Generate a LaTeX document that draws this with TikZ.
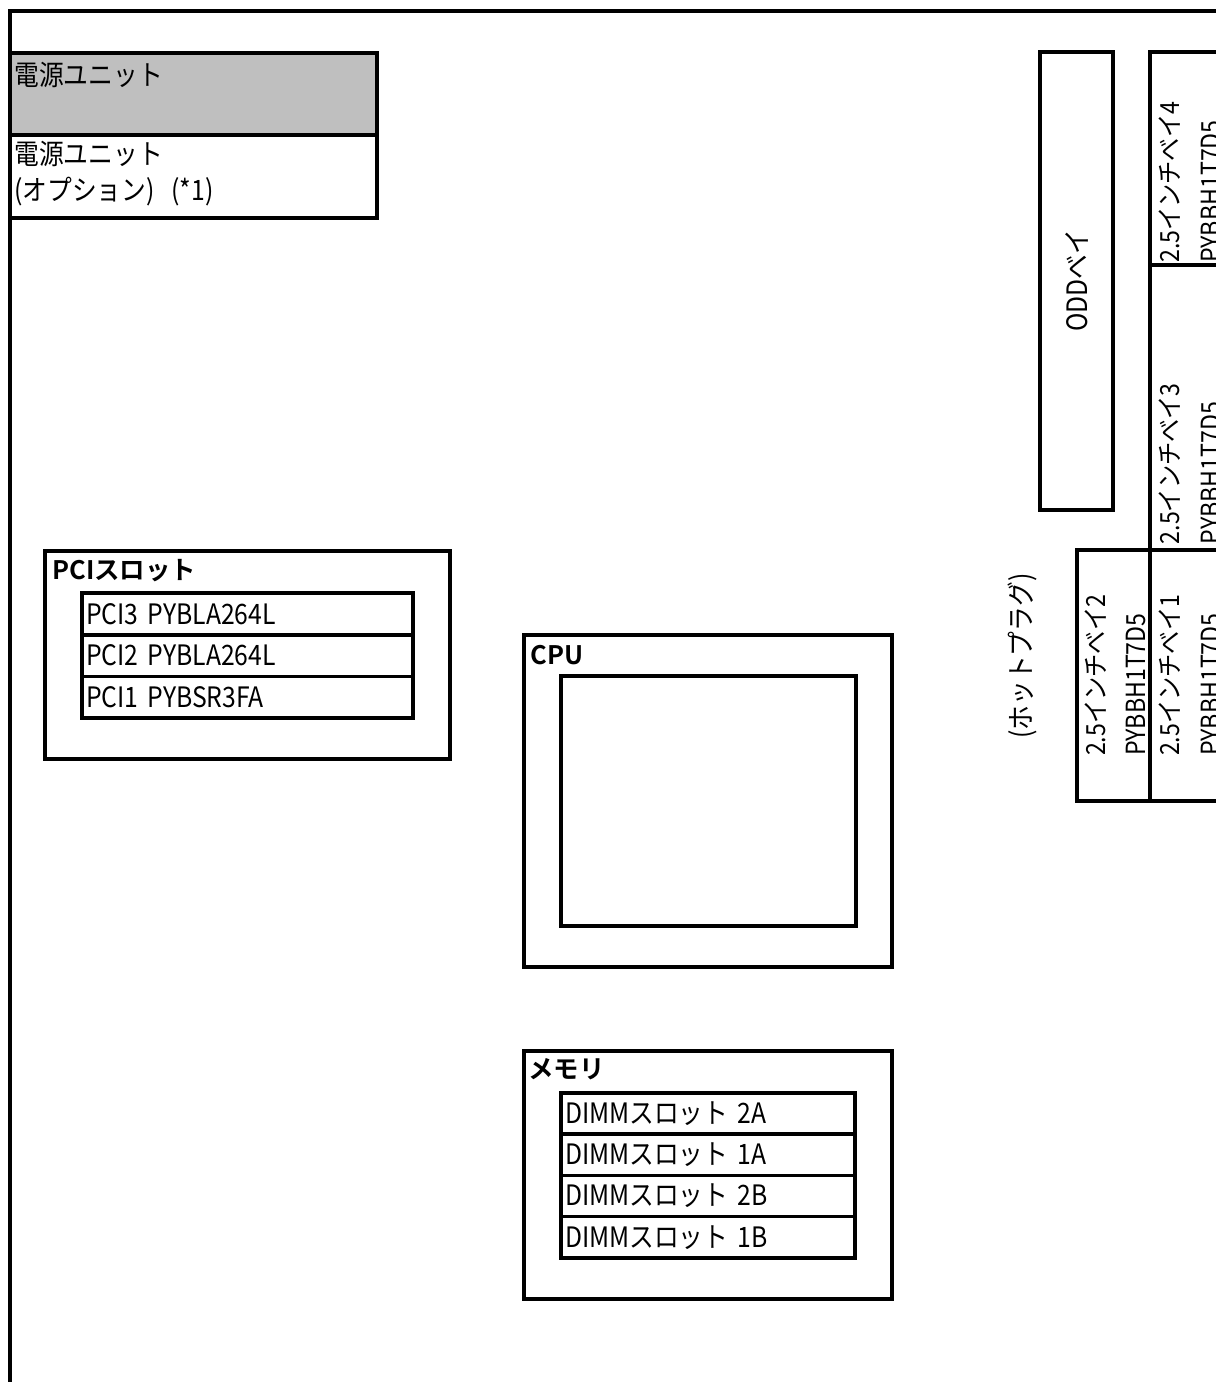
\documentclass[tikz,border=0pt]{standalone}
\usepackage{fontspec}
\setmainfont{Noto Sans CJK JP}[FakeStretch=0.88, BoldFont={Noto Sans CJK JP Bold}, BoldFeatures={FakeStretch=1}]
\usetikzlibrary{positioning}

\definecolor{psugray}{RGB}{191,191,191}

\tikzset{
  partbox/.style={draw, rectangle, line width=2pt, outer sep=0pt, inner sep=0pt, anchor=north west},
  slotbox/.style={draw, rectangle, line width=2pt, outer sep=0pt, inner xsep=0.08cm, inner ysep=0pt, align=left, font=\fontsize{16}{18}\selectfont},
  pcislot/.style={slotbox, text width=6.46cm, minimum height=0.835cm},
  dimmslot/.style={slotbox, text width=5.72cm, minimum height=0.825cm},
  lbltext/.style={inner sep=0pt, font=\fontsize{16}{20.4}\selectfont},
  headtext/.style={inner sep=0pt, anchor=west, font=\fontsize{14.5}{17}\selectfont\bfseries},
  baytext/.style={inner sep=0pt, rotate=90, align=left, font=\fontsize{15}{23}\selectfont},
}

\begin{document}
\begin{tikzpicture}[x=0.02cm, y=-0.02cm]

\useasboundingbox (0,0) rectangle (1216,1382);
\clip (0,0) rectangle (1216,1382);

% CHASSIS %%%%%%%%%%%%%%%%%%%%%%%%%%%%%%%%%%%%%%%%%%%%%%%%%%%%%%%%%%%%%%%%

\draw[line width=2pt] (10,1400) -- (10,11) -- (1240,11);

% NODES %%%%%%%%%%%%%%%%%%%%%%%%%%%%%%%%%%%%%%%%%%%%%%%%%%%%%%%%%%%%%%%%%%

\node[partbox, fill=psugray, minimum width=7.34cm, minimum height=1.64cm] (psu) at (10,53) {};
\node[partbox, minimum width=7.34cm, minimum height=1.66cm] (psuopt) at (10,135) {};

\node[partbox, minimum width=8.10cm, minimum height=4.16cm] (pci) at (45,551) {};
\node[pcislot, anchor=north west] (pci3) at (82,593) {PCI3 PYBLA264L};
\node[pcislot, below=0pt of pci3] (pci2) {PCI2 PYBLA264L};
\node[pcislot, below=0pt of pci2] (pci1) {PCI1 PYBSR3FA};

\node[partbox, minimum width=7.36cm, minimum height=6.64cm] (cpu) at (524,635) {};
\node[partbox, minimum width=5.90cm, minimum height=5.00cm] (cpudie) at (561,676) {};

\node[partbox, minimum width=7.36cm, minimum height=4.96cm] (mem) at (524,1051) {};
\node[dimmslot, anchor=north west] (dimm2a) at (561,1093) {DIMMスロット 2A};
\node[dimmslot, below=0pt of dimm2a] (dimm1a) {DIMMスロット 1A};
\node[dimmslot, below=0pt of dimm1a] (dimm2b) {DIMMスロット 2B};
\node[dimmslot, below=0pt of dimm2b] (dimm1b) {DIMMスロット 1B};

\node[partbox, minimum width=1.46cm, minimum height=9.16cm] (odd) at (1040,52) {};

\node[partbox, minimum width=1.46cm, minimum height=4.26cm] (bay4) at (1150,52) {};
\node[partbox, below=0pt of bay4, minimum width=1.46cm, minimum height=5.70cm] (bay3) {};
\node[partbox, below=0pt of bay3, minimum width=1.46cm, minimum height=5.02cm] (bay1) {};
\node[partbox, left=0pt of bay1, minimum width=1.46cm, minimum height=5.02cm] (bay2) {};

% ETIQUETTES

\node[lbltext, anchor=west] (psuname) at (14,75) {電源ユニット};
\node[lbltext, anchor=north west, align=left] (psuoptname) at (14,141) {電源ユニット\\(オプション)~~~(*1)};

\node[headtext] (pcititle) at (52,571) {PCIスロット};
\node[headtext] (cputitle) at (530,655) {CPU};
\node[headtext] (memtitle) at (528,1069) {メモリ};

\node[lbltext, rotate=90] (oddname) at (odd.center) {ODDベイ};
\node[lbltext, rotate=90] (hotplug) at (1022,656) {(ホットプラグ)};

\node[baytext, anchor=west] (bay4name) at ([xshift=2pt, yshift=1pt]bay4.south) {2.5インチベイ4\\PYBBH1T7D5};
\node[baytext, anchor=west] (bay3name) at ([xshift=2pt, yshift=3pt]bay3.south) {2.5インチベイ3\\PYBBH1T7D5};
\node[baytext] (bay2name) at ([xshift=1pt]bay2.center) {2.5インチベイ2\\PYBBH1T7D5};
\node[baytext] (bay1name) at ([xshift=2pt]bay1.center) {2.5インチベイ1\\PYBBH1T7D5};

\end{tikzpicture}
\end{document}
